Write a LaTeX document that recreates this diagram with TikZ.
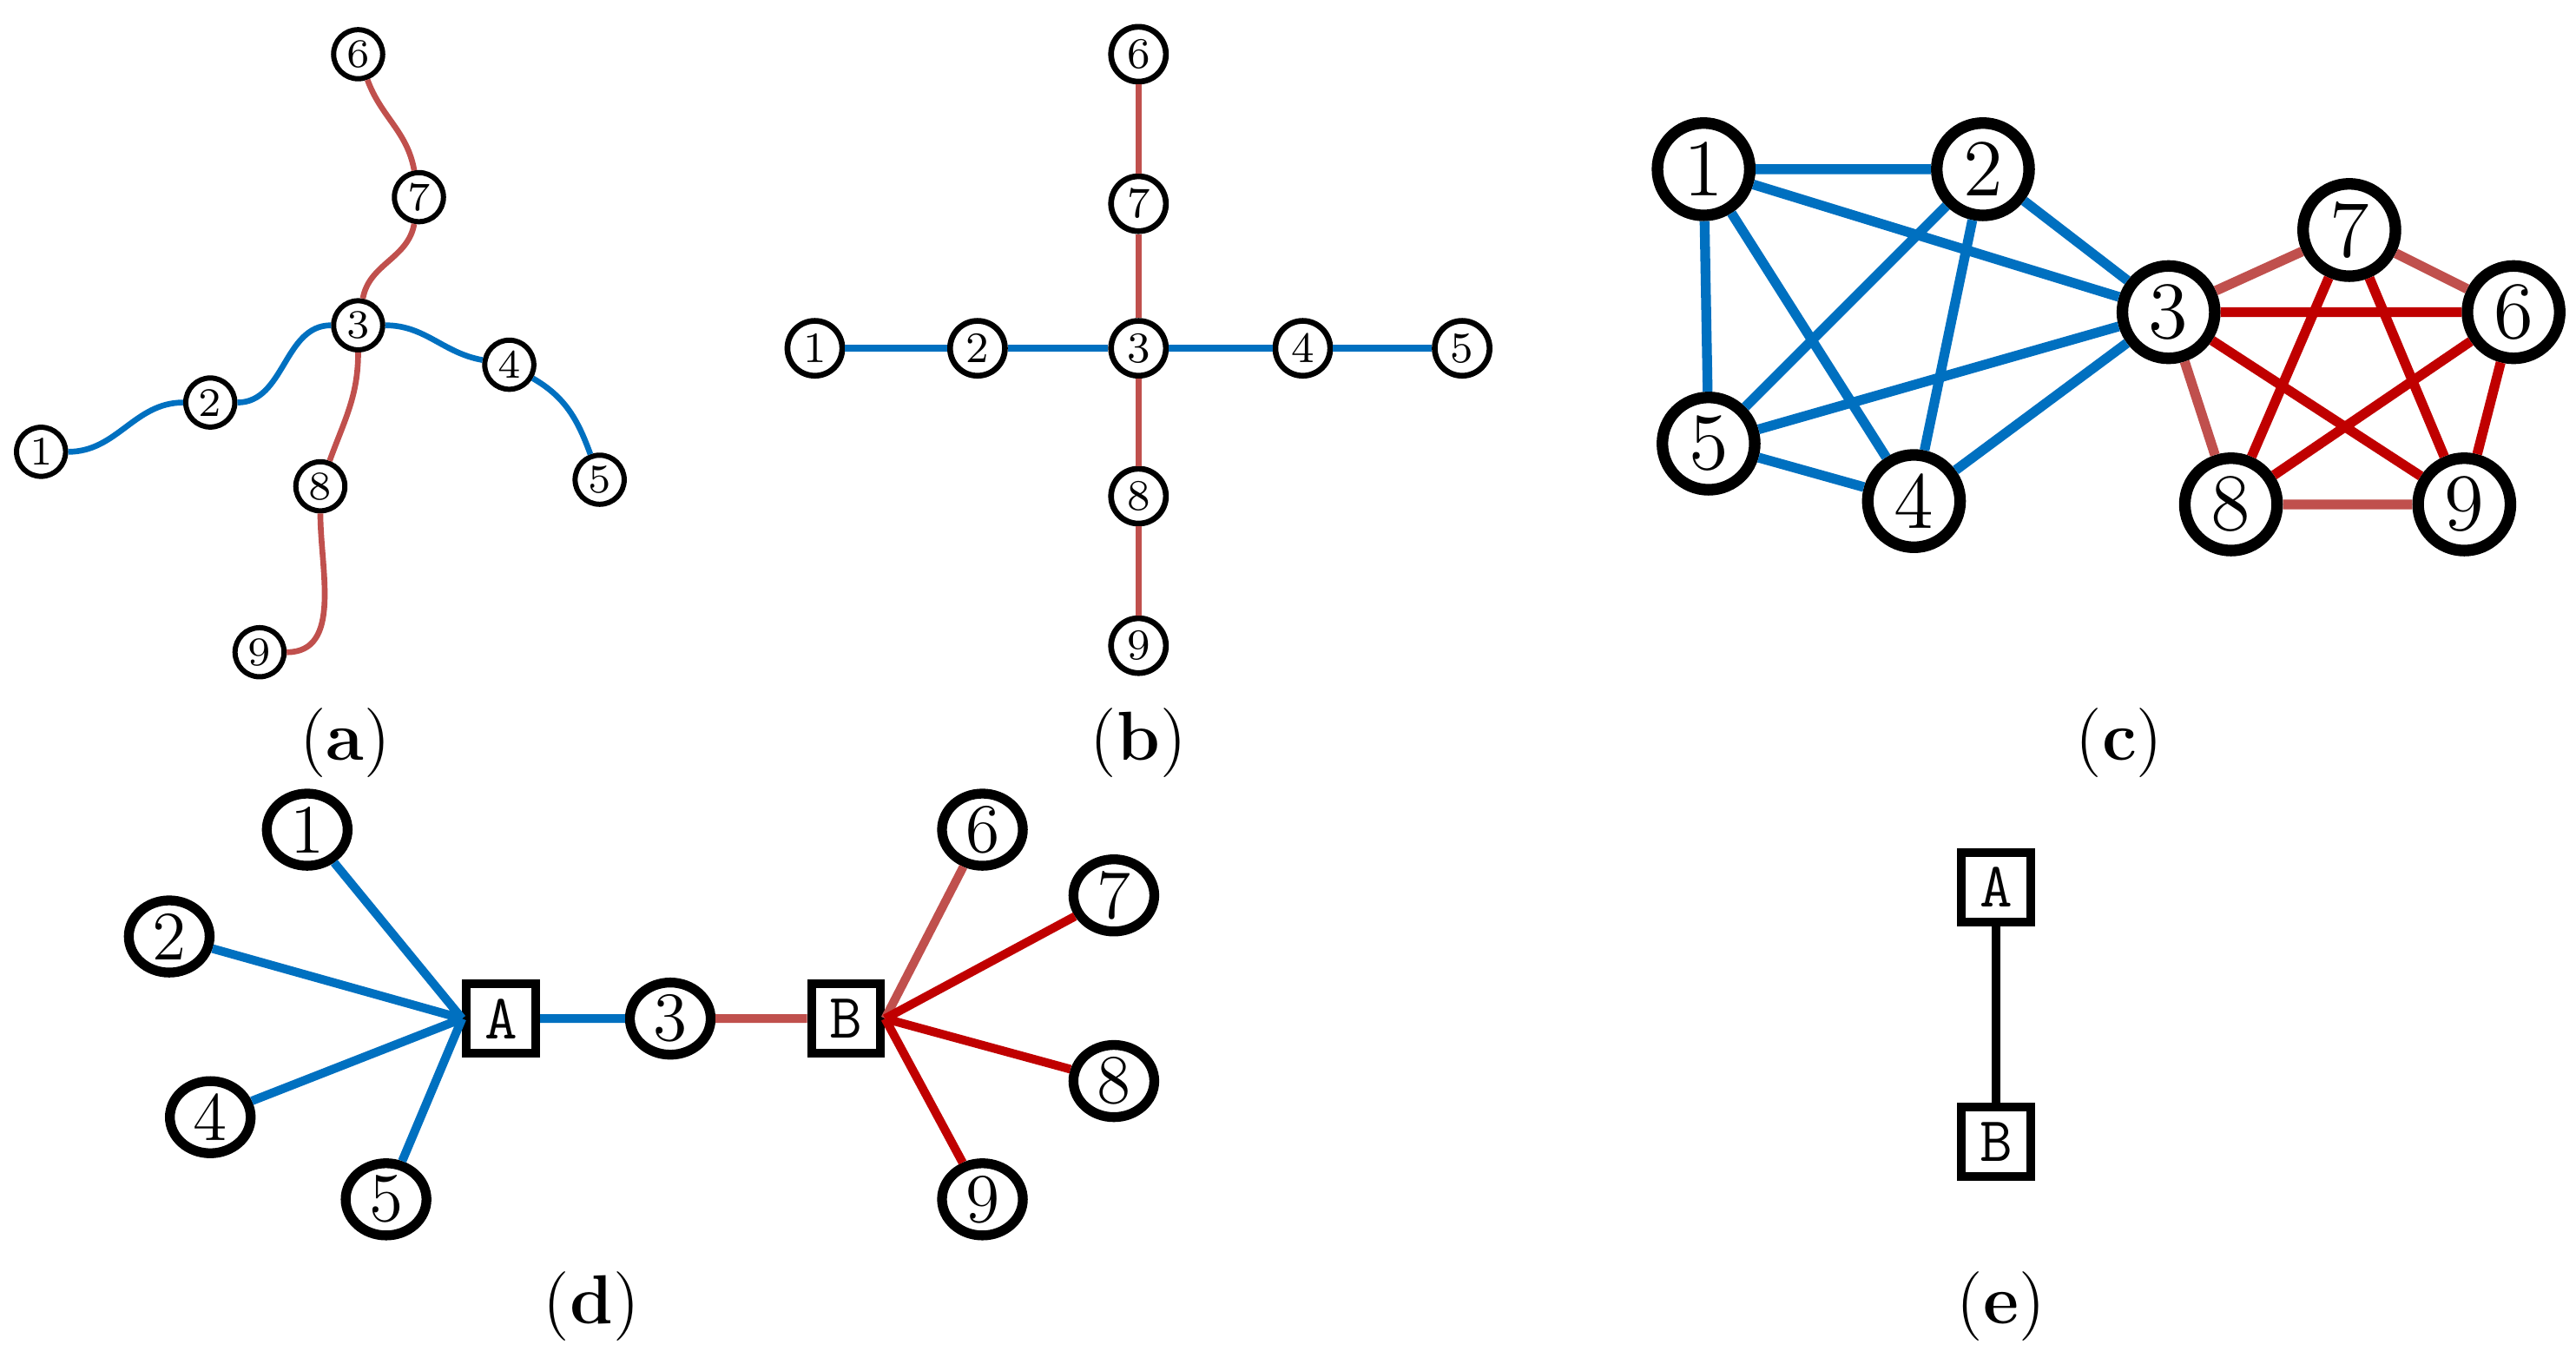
\documentclass[tikz,border=0pt]{standalone}
\usetikzlibrary{shapes.geometric}
\begin{document}
\begin{tikzpicture}[x=0.1mm,y=-0.1mm,
 na/.style={circle,draw,line width=0.9pt,minimum size=8.5pt,inner sep=0pt,font=\fontsize{7}{7}\selectfont},
 nb/.style={circle,draw,line width=1pt,minimum size=9.5pt,inner sep=0pt,font=\fontsize{7.5}{7.5}\selectfont},
 nc/.style={circle,draw,line width=2pt,minimum size=16pt,inner sep=0pt,font=\fontsize{14}{14}\selectfont},
 nd/.style={ellipse,draw,line width=1.7pt,minimum width=14pt,minimum height=12.5pt,inner sep=0pt,font=\fontsize{12}{12}\selectfont},
 sq/.style={rectangle,draw,line width=1.5pt,minimum size=12pt,inner sep=0pt,font=\ttfamily\fontsize{11}{11}\selectfont},
 lbl/.style={font=\fontsize{12}{12}\selectfont},
 bl/.style={draw=blue1,line width=#1},
 lr/.style={draw=red1,line width=#1},
 dr/.style={draw=red2,line width=#1}]
\definecolor{blue1}{HTML}{0070C0}\definecolor{red1}{HTML}{C0504D}\definecolor{red2}{HTML}{C00000}
\useasboundingbox (0,0) rectangle (1568,822);
% (a)
\node[na] (a6) at (218,33) {6};\node[na] (a7) at (255,120) {7};\node[na] (a3) at (218,198) {3};
\node[na] (a4) at (310,222) {4};\node[na] (a5) at (365,292) {5};\node[na] (a2) at (128,245) {2};
\node[na] (a1) at (25,275) {1};\node[na] (a8) at (195,296) {8};\node[na] (a9) at (158,397) {9};
\draw[bl=1pt] (a1) to[out=0,in=180] (a2);
\draw[bl=1pt] (a2) to[out=0,in=180] (a3);
\draw[bl=1pt] (a3) to[out=0,in=170] (a4);
\draw[bl=1pt] (a4) to[out=-30,in=110] (a5);
\draw[lr=1pt] (a3) to[out=80,in=-100] (a7);
\draw[lr=1pt] (a7) to[out=100,in=-70] (a6);
\draw[lr=1pt] (a3) to[out=-90,in=70] (a8);
\draw[lr=1pt] (a8) to[out=-90,in=0] (a9);
\node[lbl] (la) at (210,452) {(\textbf{a})};
% (b)
\node[nb] (b6) at (693,33) {6};\node[nb] (b7) at (693,124) {7};\node[nb] (b3) at (693,212) {3};
\node[nb] (b4) at (793,212) {4};\node[nb] (b5) at (890,212) {5};\node[nb] (b2) at (595,212) {2};
\node[nb] (b1) at (496,212) {1};\node[nb] (b8) at (693,302) {8};\node[nb] (b9) at (693,393) {9};
\draw[bl=1.1pt] (b1)--(b2) (b2)--(b3) (b3)--(b4) (b4)--(b5);
\draw[lr=1.1pt] (b6)--(b7) (b7)--(b3) (b3)--(b8) (b8)--(b9);
\node[lbl] (lb) at (693,452) {(\textbf{b})};
% (c)
\node[nc] (c1) at (1037,103) {1};\node[nc] (c2) at (1207,103) {2};\node[nc] (c3) at (1320,190) {3};
\node[nc] (c7) at (1430,140) {7};\node[nc] (c6) at (1530,190) {6};\node[nc] (c5) at (1040,270) {5};
\node[nc] (c4) at (1165,305) {4};\node[nc] (c8) at (1358,307) {8};\node[nc] (c9) at (1500,307) {9};
\draw[bl=1.7pt] (c1)--(c2) (c1)--(c5) (c1)--(c4) (c1)--(c3) (c2)--(c3) (c2)--(c5) (c2)--(c4) (c5)--(c3) (c5)--(c4) (c4)--(c3);
\draw[lr=1.7pt] (c3)--(c7) (c7)--(c6) (c3)--(c8) (c8)--(c9);
\draw[dr=1.7pt] (c3)--(c6) (c3)--(c9) (c7)--(c8) (c7)--(c9) (c6)--(c8) (c6)--(c9);
\node[lbl] (lc) at (1290,452) {(\textbf{c})};
% (d)
\node[nd] (d1) at (187,505) {1};\node[nd] (d2) at (103,570) {2};\node[nd] (d4) at (128,680) {4};
\node[nd] (d5) at (235,730) {5};\node[sq] (dA) at (305,620) {A};\node[nd] (d3) at (408,620) {3};
\node[sq] (dB) at (515,620) {B};\node[nd] (d6) at (598,505) {6};\node[nd] (d7) at (678,545) {7};
\node[nd] (d8) at (678,658) {8};\node[nd] (d9) at (598,730) {9};
\draw[bl=1.5pt] (dA.west)--(d1) (dA.west)--(d2) (dA.west)--(d4) (dA.west)--(d5) (dA)--(d3);
\draw[lr=1.5pt] (d3)--(dB) (dB.east)--(d6);
\draw[dr=1.5pt] (dB.east)--(d7) (dB.east)--(d8) (dB.east)--(d9);
\node[lbl] (ld) at (360,795) {(\textbf{d})};
% (e)
\node[sq] (eA) at (1215,540) {A};\node[sq] (eB) at (1215,695) {B};
\draw[line width=1.5pt] (eA)--(eB);
\node[lbl] (le) at (1218,795) {(\textbf{e})};
\end{tikzpicture}
\end{document}
